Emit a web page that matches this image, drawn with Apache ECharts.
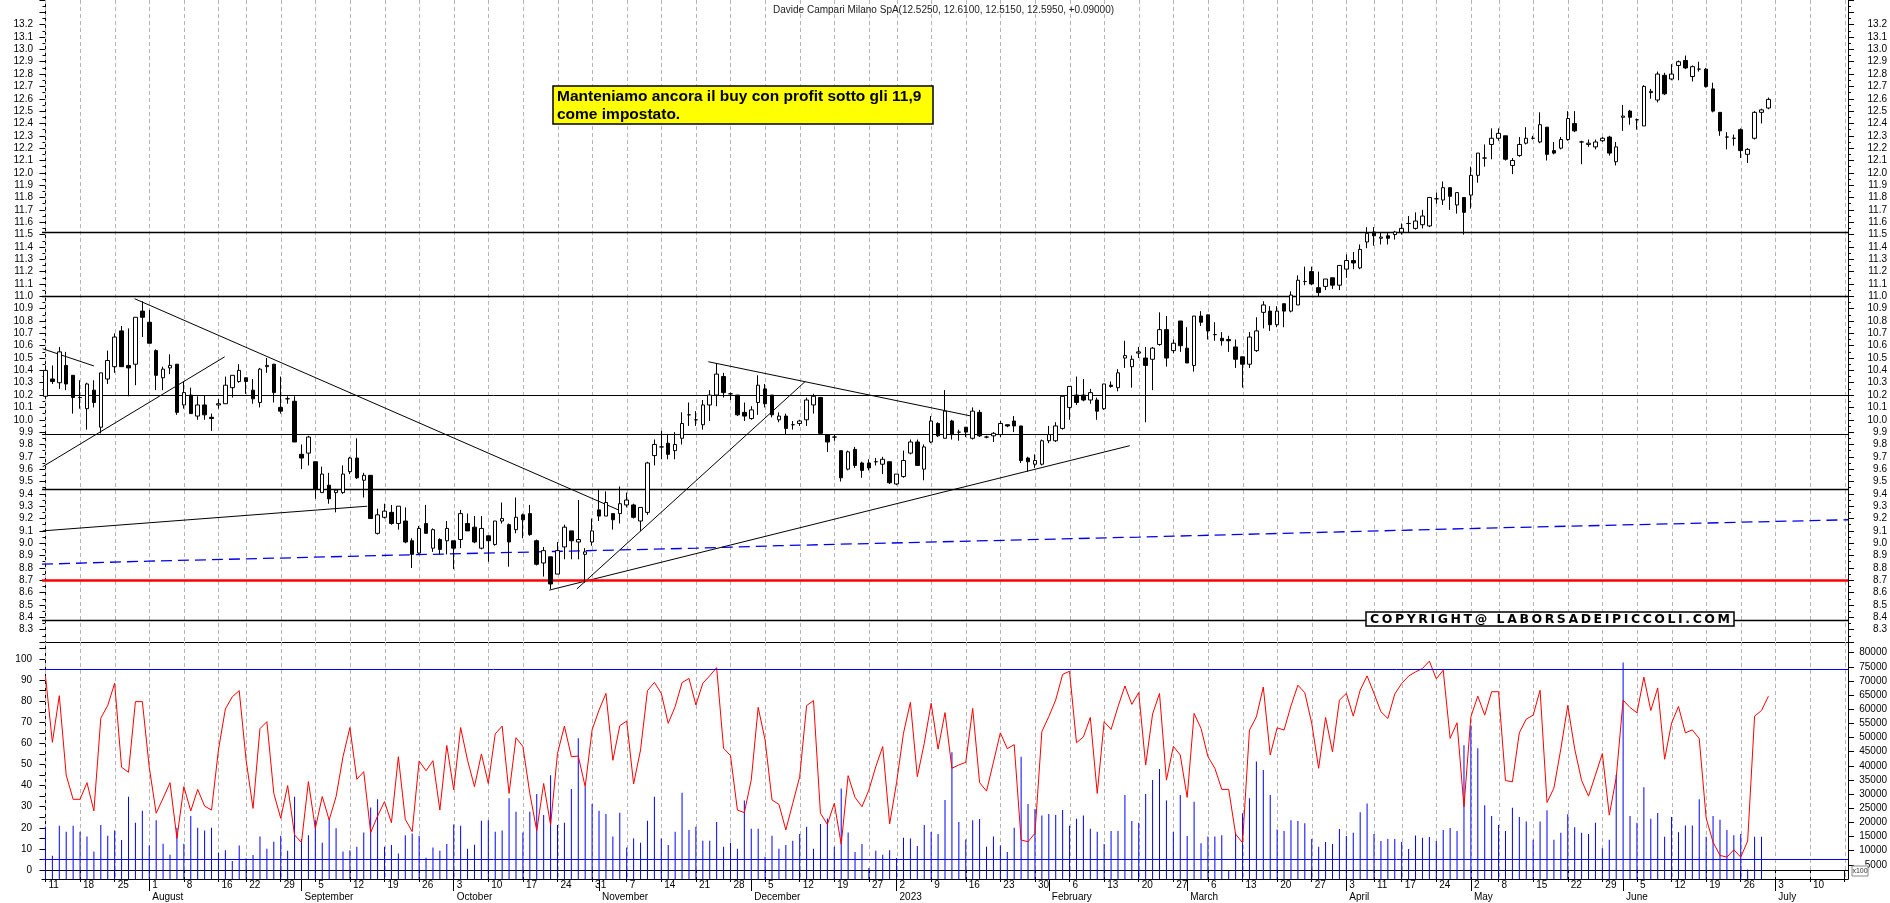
<!DOCTYPE html>
<html><head><meta charset="utf-8">
<script src="https://cdn.jsdelivr.net/npm/echarts@6/dist/echarts.min.js"></script>
<style>html,body{margin:0;padding:0;background:#fff}#c{width:1890px;height:903px}</style>
</head><body><div id="c"></div>
<script>
// ---------- calendar ----------
const startDate = '2022-07-11', endDate = '2023-07-17';
const holidays = ['2022-08-15','2022-12-26','2023-04-07','2023-04-10','2023-05-01'];
const monthNames = ['2023','February','March','April','May','June','July','August','September','October','November','December'];

// ---------- OHLC ----------
const opens = [10.19,10.33,10.30,10.44,10.36,10.18,10.09,10.24,9.94,10.33,
10.43,10.72,10.44,10.45,10.88,10.79,10.56,10.34,10.42,10.45,
10.12,10.20,10.03,10.12,10.02,10.12,10.13,10.26,10.31,10.34,
10.24,10.14,10.43,10.45,10.10,10.17,10.15,9.72,9.73,9.66,
9.41,9.47,9.41,9.41,9.58,9.69,9.51,9.55,9.08,9.21,
9.25,9.16,9.18,9.02,8.92,9.16,8.96,9.03,9.02,9.02,
9.03,9.16,9.13,8.96,9.06,8.99,9.18,9.15,9.11,9.23,
9.24,9.02,8.84,8.89,8.75,8.97,9.10,9.01,8.91,9.01,
9.27,9.22,9.24,9.24,9.31,9.31,9.18,9.25,9.71,9.78,
9.81,9.75,9.85,10.04,10.00,9.96,10.12,10.20,10.35,10.21,
10.20,10.06,10.01,10.14,10.25,10.20,10.00,10.03,9.96,9.97,
10.00,10.12,10.18,9.88,9.86,9.75,9.60,9.76,9.65,9.65,
9.66,9.64,9.66,9.48,9.54,9.73,9.82,9.60,9.82,9.97,
9.85,9.99,9.90,9.94,9.85,10.06,9.86,9.87,9.88,9.96,
9.99,9.95,9.69,9.64,9.64,9.83,9.83,9.93,10.10,10.20,
10.20,10.16,10.16,10.09,10.28,10.26,10.50,10.43,10.54,10.50,
10.49,10.61,10.73,10.56,10.80,10.58,10.44,10.84,10.85,10.69,
10.66,10.65,10.59,10.51,10.45,10.56,10.87,10.88,10.77,10.94,
10.88,10.93,11.12,11.20,11.07,11.08,11.15,11.09,11.22,11.29,
11.23,11.44,11.52,11.47,11.49,11.50,11.52,11.59,11.55,11.58,
11.57,11.79,11.78,11.88,11.74,11.80,11.82,11.98,12.12,12.23,
12.28,12.30,12.06,12.14,12.24,12.28,12.25,12.37,12.18,12.20,
12.27,12.40,12.25,12.23,12.21,12.26,12.29,12.09,12.45,12.50,
12.43,12.38,12.65,12.59,12.79,12.76,12.87,12.91,12.78,12.84,
12.84,12.68,12.49,12.29,12.28,12.35,12.15,12.28,12.49,12.525];
const highs = [10.44,10.44,10.59,10.55,10.36,10.32,10.30,10.32,10.38,10.56,
10.70,10.76,10.74,10.83,10.96,10.89,10.57,10.43,10.53,10.45,
10.31,10.26,10.19,10.20,10.05,10.17,10.35,10.36,10.45,10.34,
10.33,10.42,10.50,10.45,10.35,10.19,10.19,9.80,9.87,9.66,
9.62,9.57,9.44,9.63,9.70,9.85,9.57,9.55,9.28,9.32,
9.31,9.30,9.29,9.04,9.14,9.31,9.12,9.04,9.18,9.02,
9.27,9.24,9.22,9.22,9.06,9.18,9.33,9.16,9.37,9.24,
9.31,9.03,8.97,8.89,9.01,9.15,9.10,9.35,8.96,9.20,
9.44,9.42,9.24,9.46,9.41,9.32,9.29,9.66,9.84,9.91,
9.88,9.90,10.06,10.14,10.07,10.16,10.24,10.46,10.38,10.22,
10.20,10.14,10.11,10.36,10.29,10.20,10.06,10.05,9.99,10.00,
10.18,10.21,10.18,9.88,9.88,9.75,9.75,9.78,9.66,9.68,
9.69,9.70,9.66,9.56,9.75,9.84,9.84,9.80,10.03,9.98,
10.24,10.00,9.92,9.94,10.10,10.08,9.87,9.90,9.99,9.96,
10.03,9.95,9.70,9.72,9.84,9.95,9.98,10.19,10.27,10.35,
10.33,10.25,10.18,10.29,10.31,10.41,10.64,10.52,10.59,10.59,
10.59,10.87,10.84,10.65,10.80,10.75,10.84,10.88,10.85,10.79,
10.71,10.68,10.65,10.51,10.71,10.83,10.96,10.92,10.92,10.94,
11.04,11.17,11.24,11.24,11.20,11.14,11.15,11.25,11.34,11.36,
11.42,11.56,11.56,11.52,11.52,11.53,11.59,11.65,11.68,11.70,
11.80,11.84,11.93,11.88,11.84,11.80,12.05,12.16,12.23,12.36,
12.36,12.30,12.12,12.29,12.37,12.30,12.49,12.37,12.25,12.29,
12.50,12.50,12.26,12.27,12.27,12.29,12.30,12.25,12.55,12.51,
12.44,12.71,12.68,12.82,12.81,12.88,12.91,12.95,12.87,12.90,
12.85,12.73,12.49,12.33,12.31,12.36,12.20,12.50,12.52,12.61];
const lows = [10.17,10.29,10.25,10.24,10.05,10.09,9.92,10.10,9.89,10.29,
10.38,10.43,10.19,10.28,10.67,10.62,10.24,10.24,10.37,10.04,
10.09,10.05,10.00,10.00,9.91,10.09,10.13,10.18,10.30,10.21,
10.13,10.10,10.38,10.14,10.05,10.13,9.82,9.60,9.63,9.36,
9.41,9.32,9.25,9.40,9.56,9.52,9.37,9.20,9.07,9.20,
9.15,9.11,9.00,8.80,8.91,9.08,8.93,8.91,8.91,8.79,
8.96,9.10,9.00,8.95,8.85,8.98,9.16,8.81,9.08,9.04,
9.06,8.82,8.73,8.63,8.75,8.87,8.87,8.87,8.68,8.98,
9.18,9.22,9.11,9.16,9.29,9.20,9.10,9.23,9.63,9.68,
9.68,9.68,9.80,9.95,9.95,9.92,9.99,10.11,10.18,10.16,
10.03,9.99,10.00,10.04,10.10,10.02,9.98,9.88,9.92,9.95,
9.95,10.05,9.89,9.74,9.83,9.50,9.59,9.61,9.53,9.59,
9.63,9.56,9.48,9.47,9.53,9.72,9.63,9.51,9.81,9.86,
9.85,9.84,9.83,9.86,9.84,9.86,9.85,9.82,9.86,9.94,
9.90,9.65,9.58,9.61,9.63,9.81,9.82,9.92,10.00,10.12,
10.15,10.13,10.00,10.08,10.26,10.23,10.42,10.26,10.50,9.98,
10.24,10.60,10.43,10.54,10.55,10.46,10.39,10.76,10.65,10.64,
10.60,10.55,10.42,10.26,10.42,10.55,10.74,10.72,10.75,10.75,
10.87,10.93,11.09,11.09,11.00,11.05,11.06,11.05,11.15,11.22,
11.22,11.39,11.41,11.42,11.42,11.46,11.50,11.52,11.54,11.55,
11.56,11.75,11.74,11.70,11.67,11.50,11.71,11.92,12.05,12.11,
12.26,12.10,11.99,12.13,12.23,12.27,12.24,12.10,12.15,12.19,
12.26,12.33,12.07,12.21,12.19,12.25,12.14,12.06,12.34,12.39,
12.35,12.38,12.60,12.57,12.63,12.75,12.75,12.84,12.74,12.82,
12.69,12.49,12.30,12.19,12.22,12.12,12.08,12.27,12.40,12.515];
const closes = [10.40,10.31,10.55,10.29,10.18,10.18,10.29,10.14,10.38,10.48,
10.67,10.43,10.42,10.83,10.83,10.62,10.36,10.41,10.44,10.06,
10.22,10.05,10.12,10.04,10.01,10.13,10.28,10.36,10.40,10.31,
10.17,10.41,10.44,10.22,10.07,10.17,9.82,9.69,9.86,9.44,
9.56,9.36,9.43,9.56,9.69,9.53,9.55,9.20,9.23,9.26,
9.16,9.30,9.01,8.91,9.12,9.08,9.11,8.95,9.12,8.96,
9.24,9.10,9.01,9.12,9.02,9.18,9.20,9.01,9.21,9.19,
9.07,8.83,8.94,8.67,8.94,9.13,9.02,9.03,8.93,9.10,
9.22,9.33,9.19,9.32,9.35,9.21,9.29,9.65,9.80,9.78,
9.72,9.80,9.97,10.04,10.00,10.12,10.20,10.37,10.22,10.21,
10.04,10.03,10.08,10.28,10.13,10.04,10.03,9.93,9.96,9.99,
10.16,10.19,9.89,9.82,9.86,9.53,9.74,9.63,9.59,9.61,
9.66,9.68,9.49,9.56,9.67,9.82,9.63,9.78,9.99,9.87,
10.07,9.88,9.90,9.90,10.07,9.87,9.86,9.89,9.97,9.95,
9.95,9.67,9.66,9.67,9.83,9.88,9.95,10.19,10.27,10.14,
10.16,10.22,10.07,10.29,10.27,10.38,10.52,10.49,10.55,10.44,
10.58,10.73,10.50,10.62,10.60,10.46,10.84,10.79,10.72,10.69,
10.64,10.64,10.49,10.45,10.67,10.72,10.93,10.77,10.88,10.88,
11.01,11.13,11.12,11.10,11.03,11.14,11.09,11.25,11.29,11.27,
11.38,11.51,11.49,11.48,11.47,11.52,11.55,11.59,11.61,11.65,
11.80,11.79,11.88,11.81,11.84,11.68,11.98,12.16,12.12,12.28,
12.32,12.11,12.10,12.23,12.28,12.28,12.39,12.15,12.16,12.27,
12.44,12.34,12.25,12.24,12.25,12.28,12.16,12.21,12.46,12.45,
12.43,12.70,12.66,12.80,12.64,12.80,12.90,12.85,12.86,12.84,
12.70,12.50,12.34,12.29,12.28,12.18,12.19,12.49,12.51,12.595];

// ---------- lower panel ----------
const volume = [18500,8200,18800,16700,18800,16700,15000,9700,19100,15300,
17100,13800,29100,19900,24100,11800,20800,12500,8600,18100,
12500,22300,18100,17100,18100,9300,10200,6400,11800,7300,
8500,15000,10700,13200,15300,10000,29100,14100,15500,20800,
12800,21100,17900,9700,10200,11400,16400,25300,28200,11400,
12000,9000,15500,16100,15300,7500,11100,10000,12400,19300,
18800,10700,12100,20600,20800,16700,17100,28500,23800,16400,
23800,30000,22600,36700,19100,19900,31800,49700,32600,26500,
24100,23000,15000,23400,11100,14300,12800,20600,29100,14300,
12000,16700,30500,17300,18500,13500,13500,20100,11400,12800,
10700,27700,17800,17800,7900,15300,10700,12000,13500,15900,
18500,10700,19400,21400,11400,32000,16400,9500,12400,3900,
10000,8600,10200,7400,14600,14300,11700,19100,16600,15900,
27900,44800,20100,14000,20800,21200,11400,15000,11800,9500,
18100,43200,26500,24700,22400,23000,22600,24400,18800,21300,
22400,17800,16700,12400,17000,17000,29700,20500,19900,30000,
35000,38900,27700,16600,29700,15200,27300,12600,15000,15000,
15500,2800,16400,23200,28500,41500,38500,29700,17500,17000,
20800,20500,19700,14100,11400,13100,12400,17700,15200,16300,
23600,26700,15900,13400,14100,14100,13100,10600,15400,14600,
14800,13400,17300,18000,17000,47300,54200,46200,26100,22300,
19100,17000,25200,21900,20300,13900,20300,24300,13900,16300,
22900,18300,16300,15900,19900,10900,13900,36800,76500,22300,
19900,32400,21300,23300,14900,21900,16500,18900,18900,28200,
14900,22300,20900,17300,15500,15900,3400,14900,14900];
const oscillator = [92,60.5,82.6,45,33.5,33.5,41.4,28,72,78,
88.5,48.7,46.3,79.8,79.8,48.7,26.9,34,41.4,15,
39.5,28,38.2,30.3,28.4,56.9,76.3,82.1,85,52,
29.2,67,70.3,36.3,24.5,40,16.6,13,41.9,19.7,
34.8,23.7,34.8,53.7,67.5,43,46.6,17.7,25.6,32.4,
22.4,53.7,24,18.2,51.7,47,51.8,28.4,59,38,
67.5,52,39.5,55,41,64.5,68.2,36.3,62.7,58.5,
36.3,18.6,41,21.3,55.3,68.2,53.7,54,39.5,66.4,
75.8,83.7,52,68.4,70.6,40.8,56.9,85,88.9,83.7,
69.5,77.4,88.8,90.8,78.2,88.5,92.1,95.9,57.7,54.2,
28.4,27.2,42.7,77.1,61.6,33.2,31.1,19,31.6,44.2,
77.9,80.3,26.9,21.6,31.6,12.2,44.7,34.4,30,37.9,
49,58.5,21.8,41.4,64.8,79.5,44.2,60,79,57.3,
74.6,48.2,49.8,51,76.6,41.4,37.4,51.1,65,57.5,
59.4,14.2,13.4,17.4,65.6,72.7,80.6,92.7,94.2,60.3,
63.1,72.3,36.3,70.3,66.6,77.4,87.2,78.5,84.1,49.7,
73.9,83.7,42.6,58.6,54.5,34.4,74.2,67.1,53.7,48.2,
38.2,38.2,17,12.9,66.3,72.6,86.7,54.5,67.4,66.3,
77.8,87.6,84,69.5,48.2,72.3,56,80.5,83.7,72.9,
85.2,92,83.7,75,71.8,83.4,88.4,91.9,93.9,95.5,
99,90.6,94.7,62.4,69.8,30,72.6,82.4,73.4,84.5,
84.5,42.4,41.8,65,71.5,73.4,85.2,32,38.8,57.4,
78,57.4,42.4,35,45,55.2,26,43.7,80.5,77,
74.5,91.4,75.6,86.3,52.5,69.6,77.5,65,66.4,62.3,
24.6,13.2,6.9,6.1,9.6,6.1,13.7,72.9,75.6,82.4];

// ---------- drawn levels / annotations ----------
const levels = [11.52, 11.0, 10.2, 9.88, 9.44, 8.38];
const supportLevel = 8.7;
const bandLevels = [95, 5];
// trendlines: [[barIndex, price], [barIndex, price]]
const trendlines = [
  [[-0.4, 9.62], [25.9, 10.51]],
  [[-0.4, 10.575], [7.0, 10.436]],
  [[12.9, 10.98], [82.8, 9.27]],
  [[-0.4, 9.10], [46.5, 9.30]],
  [[72.8, 8.62], [156.7, 9.79]],
  [[76.8, 8.63], [109.8, 10.31]],
  [[95.8, 10.47], [133.8, 10.03]]
];
// long-term average (blue dashed), read at a few points
const longAverage = [[-0.5, 8.83], [15, 8.855], [34, 8.88], [48, 8.90], [94, 8.96], [106, 8.98], [158, 9.05], [210, 9.125], [260.5, 9.19]];
// tick labels
const oscLabels = [0,10,20,30,40,50,60,70,80,90,100];
const oscTicks = [0,5,10,15,20,25,30,35,40,45,50,55,60,65,70,75,80,85,90,95,100,105];
const volLabels = [5000,10000,15000,20000,25000,30000,35000,40000,45000,50000,55000,60000,65000,70000,75000,80000];
const titleText = 'Davide Campari Milano SpA(12.5250, 12.6100, 12.5150, 12.5950, +0.09000)';
const noteText = 'Manteniamo ancora il buy con profit sotto gli 11,9\ncome impostato.';
const copyrightText = 'COPYRIGHT@ LABORSADEIPICCOLI.COM';

// ---------- build ----------
function buildDates(s, e, skip) {
  const out = [];
  const d = new Date(s + 'T00:00:00Z'), end = new Date(e + 'T00:00:00Z');
  while (d <= end) {
    const dw = d.getUTCDay(), str = d.toISOString().slice(0, 10);
    if (dw !== 0 && dw !== 6 && skip.indexOf(str) < 0) out.push(str);
    d.setUTCDate(d.getUTCDate() + 1);
  }
  return out;
}
const dates = buildDates(startDate, endDate, holidays);
const dow = dates.map(s => new Date(s + 'T00:00:00Z').getUTCDay());
const isWeekStart = dates.map((s, i) => i === 0 || dow[i] <= dow[i - 1]);
const isMonthStart = dates.map((s, i) => i > 0 && s.slice(5, 7) !== dates[i - 1].slice(5, 7));
const nCat = dates.length;
const FONT = 'Liberation Sans, Arial, sans-serif';
const WIDE_FONT = 'DejaVu Sans, Liberation Sans, sans-serif';

const weekIdx = [];
isWeekStart.forEach((w, i) => { if (w) weekIdx.push([i, 10]); });
const candleData = opens.map((o, i) => [o, closes[i], lows[i], highs[i]]);

// copyright stamp: letter-spaced text inside a box
const CB = { x: 1366, y: 612, w: 368, h: 14 };
function spacedText(text, box, fontSize, family) {
  const ctx = document.createElement('canvas').getContext('2d');
  ctx.font = 'bold ' + fontSize + 'px ' + family;
  const chars = text.split('');
  const widths = chars.map(c => ctx.measureText(c).width);
  const total = widths.reduce((a, b) => a + b, 0);
  const pad = 4;
  const gap = Math.max(0, (box.w - 2 * pad - total) / (chars.length - 1));
  let x = box.x + pad;
  const els = [];
  chars.forEach((c, i) => {
    if (c !== ' ') els.push({ type: 'text', x: x, y: box.y + box.h / 2 + 0.5, z: 101,
      style: { text: c, fontSize: fontSize, fontWeight: 'bold', fill: '#000', fontFamily: family, verticalAlign: 'middle' } });
    x += widths[i] + gap;
  });
  return els;
}

const GRID_L = 42, GRID_R = 41;
const priceAxisBase = {
  type: 'value', gridIndex: 0, min: 8.2, max: 13.4, interval: 0.1, scale: true,
  axisLine: { show: true, lineStyle: { color: '#000', width: 1 } },
  axisTick: { show: true, length: 6, lineStyle: { color: '#000' } },
  minorTick: { show: true, splitNumber: 2, length: 3, lineStyle: { color: '#000' } },
  splitLine: { show: false }, minorSplitLine: { show: false },
  axisLabel: {
    fontSize: 10, color: '#000', fontFamily: FONT,
    formatter: v => (v > 8.25 && v < 13.25) ? v.toFixed(1) : ''
  }
};
const markBase = { symbol: 'none', silent: true, animation: false, label: { show: false }, emphasis: { disabled: true } };

function vGridSeries(xi, yi) {
  return {
    type: 'custom', xAxisIndex: xi, yAxisIndex: yi, data: weekIdx, z: 1, silent: true, clip: false,
    encode: { x: 0, y: 1 },
    renderItem: function (params, api) {
      const x = Math.round(api.coord([api.value(0), api.value(1)])[0]) + 0.5;
      const cs = params.coordSys;
      return { type: 'line', shape: { x1: x, y1: cs.y, x2: x, y2: cs.y + cs.height },
        style: { stroke: '#b5b5b5', lineWidth: 1, lineDash: [4, 3] } };
    }
  };
}

const series = [
  vGridSeries(0, 0),
  vGridSeries(1, 2),
  { type: 'line', xAxisIndex: 0, yAxisIndex: 0, data: [], z: 2,
    markLine: Object.assign({}, markBase, {
      data: levels.map(v => ({ yAxis: v, lineStyle: { color: '#000', type: 'solid', width: (v === 10.2 || v === 9.88) ? 1 : 1.4 } }))
        .concat([{ yAxis: supportLevel, lineStyle: { color: '#ff0000', type: 'solid', width: 2.5 } }])
    }) },
  { type: 'line', xAxisIndex: 3, yAxisIndex: 0, data: longAverage, symbol: 'none', z: 3,
    lineStyle: { color: '#0000ee', width: 1.3, type: [11, 6] }, silent: true },
].concat(trendlines.map(t => ({
  type: 'line', xAxisIndex: 3, yAxisIndex: 0, data: t, symbol: 'none', z: 3, silent: true,
  lineStyle: { color: '#000', width: 1 }
}))).concat([
  { type: 'candlestick', xAxisIndex: 0, yAxisIndex: 0, data: candleData, barWidth: 4, z: 5,
    itemStyle: { color: '#fff', color0: '#000', borderColor: '#000', borderColor0: '#000', borderWidth: 1 } },
  { type: 'bar', xAxisIndex: 1, yAxisIndex: 3, data: volume, barWidth: 1, z: 3,
    itemStyle: { color: '#0000ff' } },
  { type: 'line', xAxisIndex: 1, yAxisIndex: 2, data: oscillator, symbol: 'none', z: 4,
    lineStyle: { color: '#ff0000', width: 1 },
    markLine: Object.assign({}, markBase, {
      lineStyle: { color: '#0000ff', type: 'solid', width: 1 },
      data: bandLevels.map(v => ({ yAxis: v }))
    }) }
]);

const option = {
  animation: false,
  backgroundColor: '#fff',
  grid: [
    { left: GRID_L, right: GRID_R, top: 0, height: 642 },
    { left: GRID_L, right: GRID_R, top: 642, height: 237 }
  ],
  xAxis: [
    { type: 'category', gridIndex: 0, data: dates, boundaryGap: true,
      axisLine: { show: true, lineStyle: { color: '#000', width: 1.2 } },
      axisTick: { show: false }, axisLabel: { show: false }, splitLine: { show: false } },
    { type: 'category', gridIndex: 1, data: dates, boundaryGap: true,
      axisLine: { show: true, lineStyle: { color: '#000', width: 1.2 } },
      axisTick: { show: true, alignWithLabel: true, length: 12, interval: (i) => isWeekStart[i], lineStyle: { color: '#000' } },
      axisLabel: { show: true, interval: (i) => isWeekStart[i] && i < nCat - 3, align: 'left', margin: 1, padding: [0, 0, 0, 3],
        fontSize: 10, color: '#000', fontFamily: FONT, formatter: v => String(parseInt(v.slice(8), 10)) },
      splitLine: { show: false } },
    { type: 'category', gridIndex: 1, data: dates, boundaryGap: true, position: 'bottom', offset: 12,
      axisLine: { show: true, lineStyle: { color: '#000', width: 1.2 } },
      axisTick: { show: true, alignWithLabel: true, length: 12, interval: (i) => isMonthStart[i], lineStyle: { color: '#000' } },
      axisLabel: { show: true, interval: (i) => isMonthStart[i], align: 'left', margin: 1, padding: [0, 0, 0, 3],
        fontSize: 10, color: '#000', fontFamily: FONT,
        formatter: v => monthNames[parseInt(v.slice(5, 7), 10) - 1] },
      splitLine: { show: false } },
    { type: 'value', gridIndex: 0, min: -0.5, max: nCat - 0.5, show: false },
    { type: 'value', gridIndex: 1, min: -0.5, max: nCat - 0.5, show: false }
  ],
  yAxis: [
    Object.assign({}, priceAxisBase, { position: 'left', axisLabel: Object.assign({}, priceAxisBase.axisLabel, { margin: 9 }) }),
    Object.assign({}, priceAxisBase, { position: 'right', axisLabel: Object.assign({}, priceAxisBase.axisLabel, { margin: 39, align: 'right' }) }),
    { type: 'value', gridIndex: 1, position: 'left', min: -4.27, max: 108.06,
      axisLine: { show: true, lineStyle: { color: '#000' } },
      axisTick: { show: true, length: 6, customValues: oscTicks, lineStyle: { color: '#000' } },
      axisLabel: { fontSize: 10, color: '#000', fontFamily: FONT, margin: 10, customValues: oscLabels },
      splitLine: { show: false } },
    { type: 'value', gridIndex: 1, position: 'right', min: 0, max: 83750,
      axisLine: { show: true, lineStyle: { color: '#000' } },
      axisTick: { show: true, length: 6, customValues: volLabels, lineStyle: { color: '#000' } },
      axisLabel: { fontSize: 10, color: '#000', fontFamily: FONT, margin: 39, align: 'right', customValues: volLabels,
        formatter: v => String(Math.round(v)) },
      splitLine: { show: false } }
  ],
  series: series,
  graphic: [
    { type: 'text', x: 773, y: 10, z: 100,
      style: { text: titleText, fontSize: 10, fill: '#222', fontFamily: FONT, verticalAlign: 'middle' } },
    { type: 'rect', z: 100, shape: { x: 553, y: 86, width: 380, height: 38 },
      style: { fill: '#ffff00', stroke: '#000', lineWidth: 1.5 } },
    { type: 'text', x: 557, y: 88, z: 101,
      style: { text: noteText, fontSize: 15.5, fontWeight: 'bold', fill: '#000', fontFamily: FONT, lineHeight: 18 } },
    { type: 'rect', z: 100, shape: { x: CB.x, y: CB.y, width: CB.w, height: CB.h },
      style: { fill: '#fff', stroke: '#000', lineWidth: 1.5 } },
    { type: 'rect', z: 100, shape: { x: 1852, y: 866, width: 16, height: 10 },
      style: { fill: '#fff', stroke: '#888', lineWidth: 1 } },
    { type: 'text', x: 1860, y: 871, z: 101,
      style: { text: 'x100', fontSize: 7, fill: '#333', fontFamily: FONT, align: 'center', verticalAlign: 'middle' } }
  ].concat(spacedText(copyrightText, CB, 12.5, WIDE_FONT))
};
const chart = echarts.init(document.getElementById('c'), null, { renderer: 'canvas' });
chart.setOption(option);
</script>
</body></html>
